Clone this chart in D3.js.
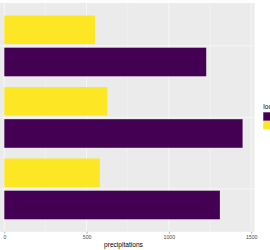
<!DOCTYPE html>
<html>
<head>
<meta charset="utf-8">
<script src="https://cdn.jsdelivr.net/npm/d3@7"></script>
<style>
  html, body { margin: 0; padding: 0; background: #fff; }
  svg { display: block; font-family: "Liberation Sans", Arial, sans-serif; }
</style>
</head>
<body>
<div id="chart"></div>
<script>
// categories from top to bottom (y labels fall outside the cropped picture)
const categories = ['Site A', 'Site B', 'Site C'];
const locations  = ['coast', 'inland'];           // purple, yellow
const coastValues  = [1227, 1448, 1310];
const inlandValues = [551, 626, 581];
const xTicks = [0, 500, 1000, 1500];
const xMinorTicks = [250, 750, 1250];

const colors = { coast: '#440154', inland: '#FDE725' };

const data = categories.map((c, i) => ({
  category: c,
  values: [
    { loc: 'coast',  value: coastValues[i] },
    { loc: 'inland', value: inlandValues[i] }
  ]
}));

const width = 270, height = 250;
const panel = { left: -7.6, right: 254.5, top: 3, bottom: 231.8 };

const svg = d3.select('#chart').append('svg')
  .attr('width', width)
  .attr('height', height);

// ggplot-like expansion: 5% on continuous, 0.6 units on discrete
const xMax = d3.max(data, d => d3.max(d.values, v => v.value));
const pad = xMax * 0.05;
const x = d3.scaleLinear()
  .domain([-pad, xMax + pad])
  .range([panel.left, panel.right]);

const y = d3.scaleBand()
  .domain(categories)
  .range([panel.top, panel.bottom])
  .paddingInner(0)
  .paddingOuter(0.1);

const unit = y.step();
// yellow (inland) on top, purple (coast) below within each group
const ySub = d3.scaleBand()
  .domain(['inland', 'coast'])
  .range([-0.45 * unit, 0.45 * unit])
  .paddingInner(1 / 9)
  .paddingOuter(1 / 18);

// panel background
svg.append('rect')
  .attr('x', panel.left)
  .attr('y', panel.top)
  .attr('width', panel.right - panel.left)
  .attr('height', panel.bottom - panel.top)
  .attr('fill', '#EBEBEB');

const grid = svg.append('g');
grid.selectAll('.minor')
  .data(xMinorTicks)
  .join('line')
    .attr('x1', d => x(d)).attr('x2', d => x(d))
    .attr('y1', panel.top).attr('y2', panel.bottom)
    .attr('stroke', '#fff').attr('stroke-width', 0.3);
grid.selectAll('.major')
  .data(xTicks)
  .join('line')
    .attr('x1', d => x(d)).attr('x2', d => x(d))
    .attr('y1', panel.top).attr('y2', panel.bottom)
    .attr('stroke', '#fff').attr('stroke-width', 0.6);
grid.selectAll('.hmajor')
  .data(categories)
  .join('line')
    .attr('x1', panel.left).attr('x2', panel.right)
    .attr('y1', d => y(d) + unit / 2).attr('y2', d => y(d) + unit / 2)
    .attr('stroke', '#fff').attr('stroke-width', 0.6);

// bars
const groups = svg.selectAll('.group')
  .data(data)
  .join('g')
    .attr('transform', d => `translate(0,${y(d.category) + unit / 2})`);

groups.selectAll('rect')
  .data(d => d.values)
  .join('rect')
    .attr('x', x(0))
    .attr('y', d => ySub(d.loc))
    .attr('width', d => x(d.value) - x(0))
    .attr('height', ySub.bandwidth())
    .attr('fill', d => colors[d.loc]);

// x axis
const xAxis = svg.append('g')
  .attr('transform', `translate(0,${panel.bottom})`)
  .call(d3.axisBottom(x).tickValues(xTicks).tickFormat(d3.format('d'))
    .tickSize(1.8).tickPadding(1.5));
xAxis.select('.domain').remove();
xAxis.selectAll('line').attr('stroke', '#333').attr('stroke-width', 0.4);
xAxis.selectAll('text')
  .attr('fill', '#4D4D4D')
  .attr('font-size', 5.2);

svg.append('text')
  .attr('x', (panel.left + panel.right) / 2)
  .attr('y', 246.5)
  .attr('text-anchor', 'middle')
  .attr('font-size', 6.6)
  .attr('fill', '#000')
  .text('precipitations');

// legend (cut off at the right edge, as in the reference)
const legend = svg.append('g').attr('transform', 'translate(263.3,0)');
legend.append('text')
  .attr('x', 0)
  .attr('y', 108.5)
  .attr('font-size', 6.6)
  .attr('fill', '#000')
  .text('location');
legend.selectAll('rect')
  .data(locations)
  .join('rect')
    .attr('x', 0)
    .attr('y', (d, i) => 112.3 + i * 8.5)
    .attr('width', 8.5)
    .attr('height', 8.5)
    .attr('fill', d => colors[d]);
</script>
</body>
</html>
